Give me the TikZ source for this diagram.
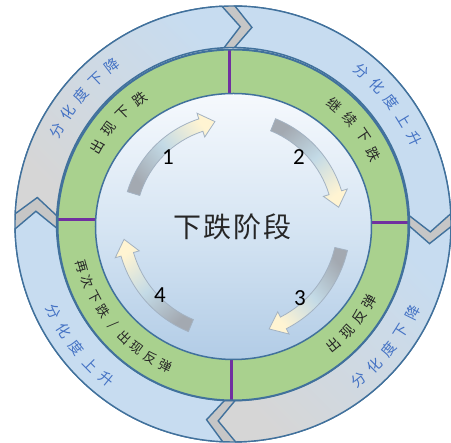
\documentclass[tikz,border=0pt]{standalone}
\usepackage{fontspec}
\newfontfamily\cjk{Noto Sans CJK SC}
\newfontfamily\numfont{Carlito}
\definecolor{ringblue}{HTML}{41719C}
\definecolor{bandblue}{HTML}{C7DCF0}
\definecolor{bandgray}{HTML}{D6D6D6}
\definecolor{gapgray}{HTML}{C6C6C6}
\definecolor{ringgreen}{HTML}{A9D18E}
\definecolor{divpurple}{HTML}{7030A0}
\definecolor{textblue}{HTML}{4472C4}
\definecolor{arrtail}{HTML}{A3A9B1}
\definecolor{arrmid}{HTML}{C3DAE6}
\definecolor{arrhead}{HTML}{FFF4D2}
\definecolor{arredge}{HTML}{A3B2C2}
\definecolor{innertop}{HTML}{F6F9FD}
\definecolor{innermid}{HTML}{D6E5F3}
\definecolor{innerbot}{HTML}{B2CCE6}
\def\Rout{218}
\def\Rin{176.5}
\def\Rmid{197.5}
\def\dep{5}
% #1 name, #2 start angle, #3 signed step, #4 radius, #5 rotation offset, #6 style, #7 chars
\newcommand\ArcText[7]{%
  \foreach \c [count=\i from 0] in {#7} {%
    \pgfmathsetmacro\aa{#2+\i*(#3)}%
    \pgfmathsetmacro\rr{\aa+(#5)}%
    \node[#6, rotate=\rr] (#1-\i) at (\aa:#4) {\c};
  }}
% #1 start edge angle, #2 end edge angle, #3 style
\newcommand\BandSeg[3]{%
  \path[#3] (#1:\Rout) arc[start angle=#1, end angle=#2, radius=\Rout]
    -- (#2-\dep:\Rmid) -- (#2:\Rin)
    arc[start angle=#2, end angle=#1, radius=\Rin]
    -- (#1-\dep:\Rmid) -- cycle;}
% #1 tail angle, #2 tip angle, #3 radius, #4 shading angle
\newcommand\CurvArrow[4]{%
  \path[arrowstyle, shading angle=#4] (#1:#3+6.5)
    arc[start angle=#1, end angle=#2+8, radius=#3+6.5]
    -- (#2+8:#3+12.5) -- (#2:#3) -- (#2+8:#3-12.5) -- (#2+8:#3-6.5)
    arc[start angle=#2+8, end angle=#1, radius=#3-6.5] -- cycle;}
\tikzset{
  arrowstyle/.style={draw=arredge, line width=0.8pt, top color=arrtail, bottom color=arrhead, middle color=arrmid},
  bandtext/.style={text=textblue, font=\cjk\fontsize{14.5}{14.5}\selectfont, inner sep=0pt},
  greentext/.style={text=black!85, font=\cjk\fontsize{14}{14}\selectfont, inner sep=0pt},
  greensmall/.style={text=black!85, font=\cjk\fontsize{13}{13}\selectfont, inner sep=-1pt},
  numtext/.style={text=black, font=\numfont\fontsize{23}{23}\selectfont, inner sep=0pt},
  graysegment/.style={draw=ringblue, line width=1.4pt, top color=bandblue, bottom color=bandgray, shading angle=-45},
  bluesegment/.style={draw=ringblue, line width=1.4pt, fill=bandblue},
  divider/.style={draw=divpurple, line width=3pt}
}
\begin{document}
\begin{tikzpicture}[x=1pt, y=1pt]
\useasboundingbox (-233,-219) rectangle (218,224);
\fill[white] (-233,-219) rectangle (218,224);
% outer band
\path[fill=gapgray, draw=ringblue, line width=1.4pt, even odd rule] (0,0) circle[radius=\Rout] (0,0) circle[radius=\Rin];
\BandSeg{177.3}{92.9}{graysegment}
\BandSeg{89.5}{2.7}{bluesegment}
\BandSeg{-0.7}{-89.3}{graysegment}
\BandSeg{-92.7}{-178.7}{bluesegment}
% green ring
\fill[ringgreen] (0,-1) circle[radius=175.5];
\draw[divider] (-3.5,125) -- (-3.5,174);
\draw[divider] (-1,-130) -- (-1,-176);
\draw[divider] (132,1.3) -- (175,1.3);
\draw[divider] (-132,4.7) -- (-175,4.7);
\path[draw=ringblue, line width=1.5pt, top color=innertop, bottom color=innerbot, middle color=innermid]
  (0.5,-2.5) ellipse[x radius=138, y radius=133];
\draw[ringblue, line width=2pt] (0,-1) circle[radius=175.5];
% curved arrows
\CurvArrow{163}{100}{104}{130}
\CurvArrow{68}{9}{107}{40}
\CurvArrow{-13}{-71}{111}{-50}
\CurvArrow{247.5}{188}{110}{220}
% numbers
\node[numtext] (n1) at (-65,67) {1};
\node[numtext] (n2) at (66,67) {2};
\node[numtext] (n3) at (67,-74) {3};
\node[numtext] (n4) at (-73,-71) {4};
% centre title
\node[text=black!85, font=\cjk\fontsize{28}{28}\selectfont, inner sep=0pt] (title) at (0,-3) {下\hspace{2pt}跌\hspace{2pt}阶\hspace{2pt}段};
% band texts
\ArcText{otl}{152.1}{-6.2}{199}{-90}{bandtext}{分,化,度,下,降}
\ArcText{otr}{49.9}{-6.2}{200}{-90}{bandtext}{分,化,度,上,升}
\ArcText{obr}{-51.1}{6.2}{200}{90}{bandtext}{分,化,度,下,降}
\ArcText{obl}{206}{6.2}{200}{90}{bandtext}{分,化,度,上,升}
% green ring texts
\ArcText{gtl}{150.5}{-7.9}{156}{-90}{greentext}{出,现,下,跌}
\ArcText{gtr}{49.5}{-7.7}{157}{-90}{greentext}{继,续,下,跌}
\ArcText{gbr}{-50.2}{6.9}{157}{90}{greentext}{出,现,反,弹}
\ArcText{gbl}{195.6}{6.1}{157}{90}{greensmall}{再,次,下,跌,/,出,现,反,弹}
\end{tikzpicture}
\end{document}
